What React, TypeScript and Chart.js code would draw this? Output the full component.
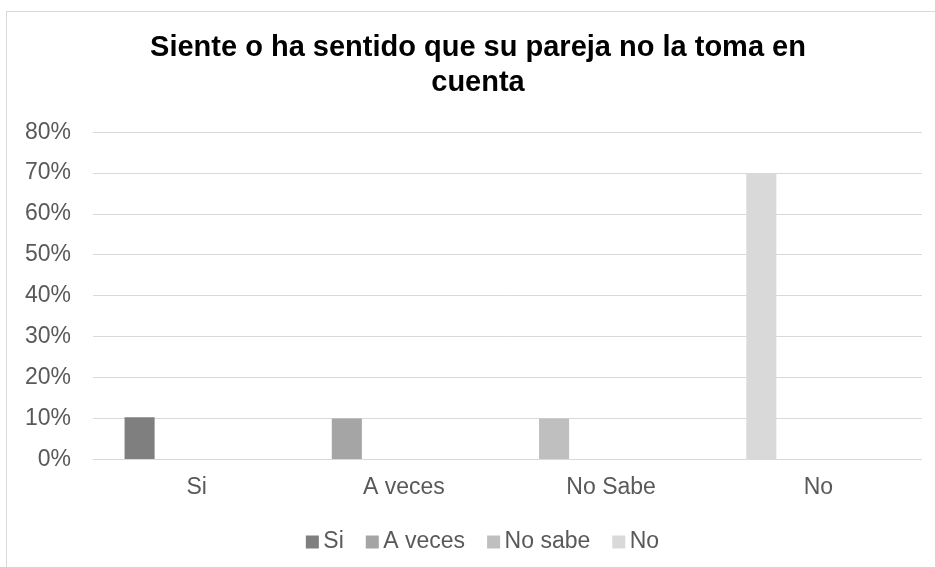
import React, { useEffect, useRef } from "react";
import { Chart, registerables } from "chart.js";

Chart.register(...registerables);

const FONT = "'Liberation Sans', Arial, sans-serif";

const TITLE_LINES = ["Siente o ha sentido que su pareja no la toma en", "cuenta"];
const CATEGORIES = ["Si", "A veces", "No Sabe", "No"];
const LEGEND_LABELS = ["Si", "A veces", "No sabe", "No"];
const VALUES = [10.3, 10, 10, 70];
const BAR_COLORS = ["#7f7f7f", "#a5a5a5", "#bfbfbf", "#d9d9d9"];
const EMPTY_SERIES = [null, null, null, null];
const Y_MAX = 80;
const Y_STEP = 10;

const legendPlugin = {
  id: "excelLegend",
  afterLayout(chart: any) {
    // let the y tick labels extend into the left padding without being clipped
    if (chart.scales.y) chart.scales.y.left = 0;
  },
  afterDraw(chart: any) {
    const ctx = chart.ctx as CanvasRenderingContext2D;
    ctx.save();
    ctx.font = `23px ${FONT}`;
    const box = 13;
    const gap = 4.5;
    const itemGap = 22;
    const widths = LEGEND_LABELS.map((t) => ctx.measureText(t).width);
    const total =
      widths.reduce((a, w) => a + box + gap + w, 0) + itemGap * (LEGEND_LABELS.length - 1);
    let x = chart.width / 2 + 2.5 - total / 2;
    const y = chart.height - 25;
    ctx.textBaseline = "middle";
    ctx.textAlign = "left";
    LEGEND_LABELS.forEach((label, i) => {
      ctx.fillStyle = BAR_COLORS[i];
      ctx.fillRect(x, y - box / 2, box, box);
      ctx.fillStyle = "#595959";
      ctx.fillText(label, x + box + gap, y);
      x += box + gap + widths[i] + itemGap;
    });
    ctx.restore();
  },
};

export default function App() {
  const ref = useRef<HTMLCanvasElement | null>(null);

  useEffect(() => {
    if (!ref.current) return;
    const chart = new Chart(ref.current, {
      type: "bar",
      data: {
        labels: CATEGORIES,
        datasets: [
          {
            label: "Serie1",
            data: VALUES,
            backgroundColor: BAR_COLORS,
            categoryPercentage: 0.734,
            barPercentage: 0.79,
          },
          { label: "Serie2", data: EMPTY_SERIES, categoryPercentage: 0.734, barPercentage: 0.79 },
          { label: "Serie3", data: EMPTY_SERIES, categoryPercentage: 0.734, barPercentage: 0.79 },
          { label: "Serie4", data: EMPTY_SERIES, categoryPercentage: 0.734, barPercentage: 0.79 },
        ],
      },
      options: {
        animation: false,
        responsive: false,
        devicePixelRatio: 1,
        layout: { padding: { left: 27, right: 31, top: 0, bottom: 52 } },
        plugins: {
          legend: { display: false },
          tooltip: { enabled: false },
          title: {
            display: true,
            text: TITLE_LINES,
            color: "#000000",
            font: { family: FONT, size: 29, weight: "bold", lineHeight: 1.22 },
            padding: { top: 18, bottom: 31.5 },
          },
        },
        scales: {
          x: {
            grid: { display: false, drawTicks: false },
            border: { display: false },
            ticks: {
              color: "#595959",
              font: { family: FONT, size: 23 },
              padding: 14,
              maxRotation: 0,
            },
          },
          y: {
            min: 0,
            max: Y_MAX,
            grid: { color: "#d9d9d9", lineWidth: 1, drawTicks: false },
            border: { display: false },
            ticks: {
              stepSize: Y_STEP,
              color: "#595959",
              font: { family: FONT, size: 23 },
              padding: 22,
              callback: (v: any) => `${v}%`,
            },
            afterFit: (scale: any) => {
              scale.width = 59;
            },
          },
        },
      },
      plugins: [legendPlugin],
    });
    return () => chart.destroy();
  }, []);

  return (
    <div
      style={{
        position: "fixed",
        left: 0,
        top: 0,
        width: 935,
        height: 567,
        overflow: "hidden",
        background: "#ffffff",
      }}
    >
      <div
        style={{
          position: "absolute",
          left: 6,
          top: 11,
          width: 946,
          height: 600,
          border: "1px solid #d9d9d9",
        }}
      >
        <canvas ref={ref} width={946} height={555} style={{ display: "block", width: 946, height: 555 }} />
      </div>
    </div>
  );
}
